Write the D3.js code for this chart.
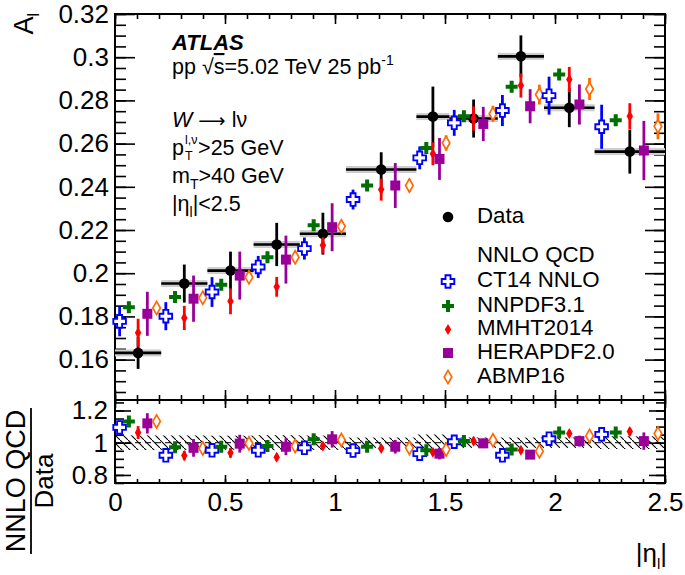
<!DOCTYPE html>
<html><head><meta charset="utf-8">
<script src="https://cdn.jsdelivr.net/npm/d3@7"></script>
<style>
body{margin:0;background:#fff}
text{font-family:"Liberation Sans",Arial,Helvetica,sans-serif;fill:#000}
</style>
</head><body><svg id="c" width="685" height="575"></svg>
<script>
// ---------------- data ----------------
const etaEdges = [0, 0.21, 0.42, 0.63, 0.84, 1.05, 1.37, 1.52, 1.74, 1.95, 2.18, 2.5];
const asymData    = [0.1631, 0.1952, 0.2012, 0.2133, 0.2183, 0.2480, 0.2725, 0.2716, 0.3004, 0.2766, 0.2563];
const asymDataErr = [0.0074, 0.0088, 0.0088, 0.0100, 0.0097, 0.0080, 0.0139, 0.0088, 0.0097, 0.0090, 0.0102];

const seriesNames = ["CT14 NNLO", "NNPDF3.1", "MMHT2014", "HERAPDF2.0", "ABMP16"];
const ct14     = [0.1777, 0.1801, 0.1913, 0.2029, 0.2114, 0.2341, 0.2534, 0.2696, 0.2753, 0.2822, 0.2678];
const ct14Err  = [0.0069, 0.0065, 0.0069, 0.0051, 0.0051, 0.0046, 0.0053, 0.0060, 0.0072, 0.0088, 0.0102];
const nnpdf    = [0.1842, 0.1890, 0.1947, 0.2074, 0.2222, 0.2406, 0.2580, 0.2727, 0.2863, 0.2920, 0.2708];
const nnpdfErr = [0.0012, 0.0012, 0.0012, 0.0012, 0.0012, 0.0012, 0.0012, 0.0012, 0.0012, 0.0012, 0.0012];
const mmht     = [0.1724, 0.1793, 0.1870, 0.1937, 0.2129, 0.2387, 0.2553, 0.2716, 0.2869, 0.2897, 0.2727];
const mmhtErr  = [0.0065, 0.0056, 0.0060, 0.0046, 0.0037, 0.0051, 0.0053, 0.0056, 0.0056, 0.0058, 0.0060];
const hera     = [0.1812, 0.1882, 0.1989, 0.2063, 0.2213, 0.2406, 0.2529, 0.2691, 0.2773, 0.2781, 0.2568];
const heraErr  = [0.0102, 0.0107, 0.0111, 0.0111, 0.0111, 0.0104, 0.0097, 0.0079, 0.0079, 0.0093, 0.0137];
const abmp     = [0.1839, 0.1886, 0.1981, 0.2074, 0.2217, 0.2406, 0.2603, 0.2738, 0.2827, 0.2853, 0.2680];
const abmpErr  = [0.0020, 0.0020, 0.0020, 0.0020, 0.0020, 0.0031, 0.0035, 0.0037, 0.0046, 0.0051, 0.0060];

// ratio NNLO QCD / Data
const ratioCt14  = [1.095, 0.922, 0.953, 0.953, 0.968, 0.951, 0.932, 1.006, 0.922, 1.025, 1.052];
const ratioNnpdf = [1.132, 0.972, 0.975, 0.979, 1.021, 0.975, 0.953, 1.010, 0.958, 1.063, 1.063];
const ratioMmht  = [1.063, 0.920, 0.937, 0.910, 0.979, 0.964, 0.941, 1.010, 0.953, 1.057, 1.069];
const ratioHera  = [1.120, 0.968, 0.994, 0.975, 1.021, 0.975, 0.932, 0.996, 0.926, 1.010, 1.010];
const ratioAbmp  = [1.132, 0.964, 0.996, 0.979, 1.017, 0.968, 0.958, 1.015, 0.947, 1.042, 1.057];

const xTickLabels   = [0, 0.5, 1, 1.5, 2, 2.5];
const yTopTickLabels = [0.16, 0.18, 0.2, 0.22, 0.24, 0.26, 0.28, 0.3, 0.32];
const yBotTickLabels = [0.8, 1, 1.2];

// ---------------- setup ----------------
const svg = d3.select("#c");
const x  = d3.scaleLinear().domain([0, 2.5]).range([115, 665]);
const yT = d3.scaleLinear().domain([0.1413, 0.32]).range([400, 14]);
const yB = d3.scaleLinear().domain([0.75, 1.265]).range([483, 400]);

const colors = ["#0000ff", "#006e00", "#ff0000", "#990099", "#ff6a00"];
const predVals = [ct14, nnpdf, mmht, hera, abmp];
const predErrs = [ct14Err, nnpdfErr, mmhtErr, heraErr, abmpErr];
const ratios   = [ratioCt14, ratioNnpdf, ratioMmht, ratioHera, ratioAbmp];

const defs = svg.append("defs");
const pat = defs.append("pattern").attr("id", "hatch").attr("patternUnits", "userSpaceOnUse")
  .attr("width", 8).attr("height", 8);
pat.append("path").attr("d", "M-1,-1 L9,9").attr("stroke", "#000").attr("stroke-width", 1.1);

const bins = d3.range(asymData.length).map(i => ({
  i, lo: etaEdges[i], hi: etaEdges[i + 1], c: (etaEdges[i] + etaEdges[i + 1]) / 2,
  v: asymData[i], e: asymDataErr[i]
}));
const predX = (b, k) => b.lo + (k + 0.5) * (b.hi - b.lo) / 5;

// marker shapes
function openCross(L, a) {
  return `M${-a},${-L}H${a}V${-a}H${L}V${a}H${a}V${L}H${-a}V${a}H${-L}V${-a}H${-a}Z`;
}
const shapes = [
  {d: openCross(6.3, 2.5), fill: "#fff", stroke: colors[0], sw: 1.9},
  {d: d3.symbol(d3.symbolCross, 80)(), fill: colors[1], stroke: "none", sw: 0},
  {d: d3.symbol(d3.symbolDiamond, 36)(), fill: colors[2], stroke: "none", sw: 0},
  {d: d3.symbol(d3.symbolSquare, 100)(), fill: colors[3], stroke: "none", sw: 0},
  {d: d3.symbol(d3.symbolDiamond, 50)(), fill: "#fff", stroke: colors[4], sw: 1.7}
];
function drawMarker(g, k, px, py) {
  const s = shapes[k];
  g.append("path").attr("d", s.d).attr("transform", `translate(${px},${py})`)
    .attr("fill", s.fill).attr("stroke", s.stroke).attr("stroke-width", s.sw);
}

// ---------------- axes ----------------
function styleAxis(g, fs) {
  g.attr("font-family", null).attr("font-size", null);
  g.select(".domain").remove();
  g.selectAll(".tick line").attr("stroke", "#000").attr("stroke-width", 1.6);
  g.selectAll(".tick text").style("font-size", fs + "px").attr("fill", "#000");
}
const fmt = d3.format("~g");
const xMinor = d3.range(0, 2.501, 0.1);
const yTopMinor = d3.range(0.145, 0.3201, 0.005);
const yBotMinor = d3.range(0.75, 1.2651, 0.05);

function addAxis(tr, axis) {
  svg.append("g").attr("transform", tr).call(axis).call(g => styleAxis(g, 26));
}
// top panel
addAxis("translate(115,0)", d3.axisLeft(yT).tickValues(yTopTickLabels).tickFormat(fmt).tickSizeInner(-20).tickSizeOuter(0).tickPadding(6));
addAxis("translate(115,0)", d3.axisLeft(yT).tickValues(yTopMinor).tickFormat("").tickSizeInner(-11).tickSizeOuter(0));
addAxis("translate(665,0)", d3.axisRight(yT).tickValues(yTopTickLabels).tickFormat("").tickSizeInner(-20).tickSizeOuter(0));
addAxis("translate(665,0)", d3.axisRight(yT).tickValues(yTopMinor).tickFormat("").tickSizeInner(-11).tickSizeOuter(0));
addAxis("translate(0,14)", d3.axisTop(x).tickValues(xTickLabels).tickFormat("").tickSizeInner(-10).tickSizeOuter(0));
addAxis("translate(0,14)", d3.axisTop(x).tickValues(xMinor).tickFormat("").tickSizeInner(-5).tickSizeOuter(0));
addAxis("translate(0,400)", d3.axisBottom(x).tickValues(xTickLabels).tickFormat("").tickSizeInner(-10).tickSizeOuter(0));
addAxis("translate(0,400)", d3.axisBottom(x).tickValues(xMinor).tickFormat("").tickSizeInner(-5).tickSizeOuter(0));
// bottom panel
addAxis("translate(115,0)", d3.axisLeft(yB).tickValues(yBotTickLabels).tickFormat(fmt).tickSizeInner(-16).tickSizeOuter(0).tickPadding(7));
addAxis("translate(115,0)", d3.axisLeft(yB).tickValues(yBotMinor).tickFormat("").tickSizeInner(-9).tickSizeOuter(0));
addAxis("translate(665,0)", d3.axisRight(yB).tickValues(yBotTickLabels).tickFormat("").tickSizeInner(-16).tickSizeOuter(0));
addAxis("translate(665,0)", d3.axisRight(yB).tickValues(yBotMinor).tickFormat("").tickSizeInner(-9).tickSizeOuter(0));
addAxis("translate(0,400)", d3.axisTop(x).tickValues(xTickLabels).tickFormat("").tickSizeInner(-8).tickSizeOuter(0));
addAxis("translate(0,400)", d3.axisTop(x).tickValues(xMinor).tickFormat("").tickSizeInner(-4).tickSizeOuter(0));
addAxis("translate(0,483)", d3.axisBottom(x).tickValues(xTickLabels).tickFormat(fmt).tickSizeInner(-8).tickSizeOuter(0).tickPadding(10));
addAxis("translate(0,483)", d3.axisBottom(x).tickValues(xMinor).tickFormat("").tickSizeInner(-4).tickSizeOuter(0));

// frames
svg.append("rect").attr("x", x(0)).attr("y", yT(0.32)).attr("width", x(2.5) - x(0)).attr("height", yT.range()[0] - yT(0.32))
  .attr("fill", "none").attr("stroke", "#000").attr("stroke-width", 2);
svg.append("rect").attr("x", x(0)).attr("y", yB(1.265)).attr("width", x(2.5) - x(0)).attr("height", yB(0.75) - yB(1.265))
  .attr("fill", "none").attr("stroke", "#000").attr("stroke-width", 2);

// ---------------- top panel: data ----------------
const gData = svg.append("g");
bins.forEach(b => {
  gData.append("rect").attr("x", x(b.lo)).attr("width", x(b.hi) - x(b.lo))
    .attr("y", yT(b.v) - 3.5).attr("height", 7).attr("fill", "#cdcdcd");
});
bins.forEach(b => {
  gData.append("line").attr("x1", x(b.lo)).attr("x2", x(b.hi)).attr("y1", yT(b.v)).attr("y2", yT(b.v))
    .attr("stroke", "#000").attr("stroke-width", 2.6);
  gData.append("line").attr("x1", x(b.c)).attr("x2", x(b.c)).attr("y1", yT(b.v - b.e)).attr("y2", yT(b.v + b.e))
    .attr("stroke", "#000").attr("stroke-width", 2.8);
  gData.append("circle").attr("cx", x(b.c)).attr("cy", yT(b.v)).attr("r", 5.3).attr("fill", "#000");
});

// predictions
const gPred = svg.append("g");
bins.forEach(b => {
  for (let k = 0; k < 5; k++) {
    const px = x(predX(b, k)), v = predVals[k][b.i], e = predErrs[k][b.i];
    gPred.append("line").attr("x1", px).attr("x2", px).attr("y1", yT(v - e)).attr("y2", yT(v + e))
      .attr("stroke", colors[k]).attr("stroke-width", 2.8);
    drawMarker(gPred, k, px, yT(v));
  }
});

// ---------------- bottom panel ----------------
const gR = svg.append("g");
bins.forEach(b => {
  const rel = b.e / b.v;
  gR.append("rect").attr("x", x(b.lo)).attr("width", x(b.hi) - x(b.lo))
    .attr("y", yB(1 + rel)).attr("height", yB(1 - rel) - yB(1 + rel)).attr("fill", "url(#hatch)");
});
gR.append("line").attr("x1", x(0)).attr("x2", x(2.5)).attr("y1", yB(1)).attr("y2", yB(1))
  .attr("stroke", "#000").attr("stroke-width", 1).attr("stroke-dasharray", "6,4");
bins.forEach(b => {
  for (let k = 0; k < 5; k++) {
    const px = x(predX(b, k)), r = ratios[k][b.i];
    const re = r * predErrs[k][b.i] / predVals[k][b.i];
    gR.append("line").attr("x1", px).attr("x2", px).attr("y1", yB(r - re)).attr("y2", yB(r + re))
      .attr("stroke", colors[k]).attr("stroke-width", 2.8);
    drawMarker(gR, k, px, yB(r));
  }
});

// ---------------- texts ----------------
const FS = 21.5;
svg.append("text").attr("x", 172).attr("y", 50).style("font-size", "22px")
  .style("font-weight", "bold").style("font-style", "italic").text("ATLAS");
const t2 = svg.append("text").attr("x", 172).attr("y", 74).style("font-size", FS + "px");
t2.append("tspan").text("pp \u221A");
t2.append("tspan").style("text-decoration", "overline").text("s");
t2.append("tspan").text("=5.02 TeV 25 pb");
t2.append("tspan").attr("dy", -9).style("font-size", "14px").text("-1");

const t3 = svg.append("text").attr("x", 172).attr("y", 127).style("font-size", FS + "px");
t3.append("tspan").style("font-style", "italic").text("W");
t3.append("tspan").style("font-family", "'DejaVu Sans'").style("font-size", "19px").text(" \u27F6 ");
t3.append("tspan").text("l\u03BD");

// p_T^{l,nu} > 25 GeV as one text element with stacked super/subscript
const t4 = svg.append("text").attr("x", 172).attr("y", 155).style("font-size", FS + "px");
t4.append("tspan").text("p");
const sup = t4.append("tspan").attr("dx", 1).attr("dy", -11).style("font-size", "12.5px").text("l,\u03BD");
const supW = sup.node().getComputedTextLength();
t4.append("tspan").attr("dx", -supW).attr("dy", 16).style("font-size", "12.5px").text("T");
const subW = 8;
t4.append("tspan").attr("dx", supW - subW + 1).attr("dy", -5).text(">25 GeV");

const t5 = svg.append("text").attr("x", 172).attr("y", 182.5).style("font-size", FS + "px");
t5.append("tspan").text("m");
t5.append("tspan").attr("dy", 6).style("font-size", "14px").text("T");
t5.append("tspan").attr("dy", -6).text(">40 GeV");

const t6 = svg.append("text").attr("x", 172).attr("y", 210.5).style("font-size", FS + "px");
t6.append("tspan").text("|\u03B7");
t6.append("tspan").attr("dy", 6).style("font-size", "14px").text("l");
t6.append("tspan").attr("dy", -6).text("|<2.5");

// legend
const LFS = 22.3;
const gL = svg.append("g");
gL.append("circle").attr("cx", 448).attr("cy", 217).attr("r", 5.3).attr("fill", "#000");
gL.append("text").attr("x", 477).attr("y", 223).style("font-size", LFS + "px").text("Data");
gL.append("text").attr("x", 477).attr("y", 262).style("font-size", LFS + "px").text("NNLO QCD");
const legY = [281.5, 306, 329.5, 353, 377];
seriesNames.forEach((n, k) => {
  drawMarker(gL, k, 448, legY[k]);
  gL.append("text").attr("x", 477).attr("y", legY[k] + 5.5).style("font-size", LFS + "px").text(n);
});

// axis titles
const ty = svg.append("text").attr("transform", "translate(33,13) rotate(-90)")
  .attr("text-anchor", "end").style("font-size", "27px");
ty.append("tspan").text("A");
ty.append("tspan").attr("dy", 6).style("font-size", "16px").text("l");

const tx = svg.append("text").attr("x", 667).attr("y", 562).attr("text-anchor", "end").style("font-size", "26px");
tx.append("tspan").text("|\u03B7");
tx.append("tspan").attr("dy", 7).style("font-size", "15px").text("l");
tx.append("tspan").attr("dy", -7).text("|");

svg.append("text").attr("transform", "translate(25,481) rotate(-90)").attr("text-anchor", "middle")
  .style("font-size", "27px").text("NNLO QCD");
svg.append("line").attr("x1", 31).attr("x2", 31).attr("y1", 408).attr("y2", 554)
  .attr("stroke", "#000").attr("stroke-width", 1.8);
svg.append("text").attr("transform", "translate(53,481) rotate(-90)").attr("text-anchor", "middle")
  .style("font-size", "26px").text("Data");
</script>
</body></html>
